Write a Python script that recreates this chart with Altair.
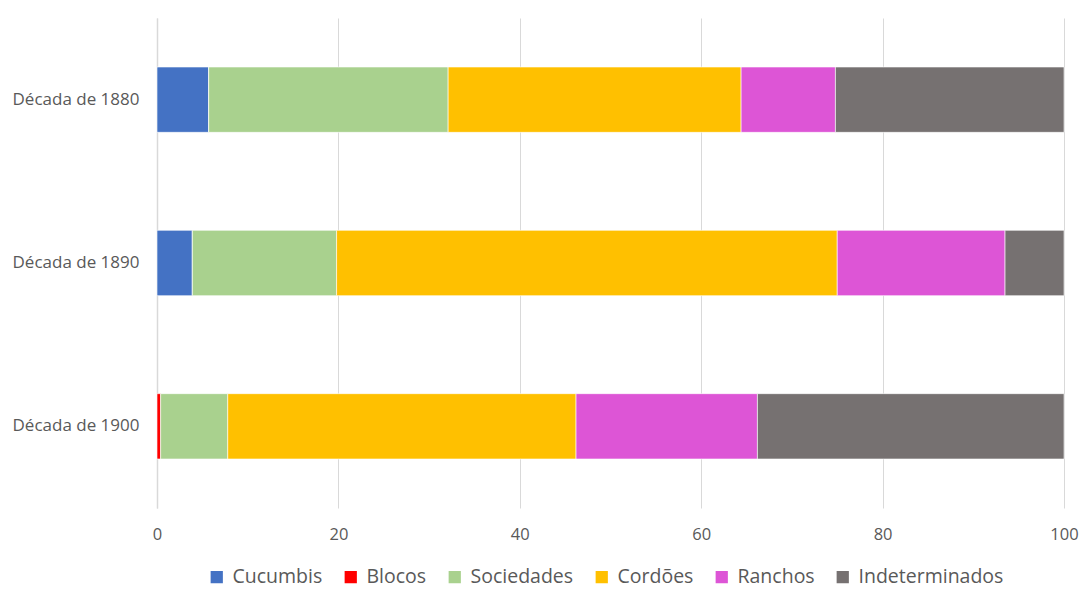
import altair as alt
import pandas as pd

decades = ["Década de 1880", "Década de 1890", "Década de 1900"]
series = ["Cucumbis", "Blocos", "Sociedades", "Cordões", "Ranchos", "Indeterminados"]
colors = ["#4472C4", "#FF0000", "#A9D18E", "#FFC000", "#DD55D6", "#767171"]
cucumbis = [5.7, 3.9, 0.0]
blocos = [0.0, 0.0, 0.4]
sociedades = [26.4, 15.9, 7.4]
cordoes = [32.3, 55.2, 38.4]
ranchos = [10.4, 18.5, 20.0]
indeterminados = [25.2, 6.5, 33.8]

vals = [cucumbis, blocos, sociedades, cordoes, ranchos, indeterminados]
rows = []
for si, s in enumerate(series):
    for di, d in enumerate(decades):
        rows.append({"decada": d, "serie": s, "valor": vals[si][di], "ordem": si})
df = pd.DataFrame(rows)

font = "Open Sans"

chart = alt.Chart(df).mark_bar(stroke="white", strokeWidth=0.6).encode(
    y=alt.Y("decada:N", sort=decades, title=None,
            scale=alt.Scale(paddingInner=0.6, paddingOuter=0.3),
            axis=alt.Axis(labelFont=font, labelFontSize=17, labelColor="#595959",
                          ticks=False, domain=True, domainColor="#D9D9D9", domainWidth=1.5,
                          labelPadding=18)),
    x=alt.X("valor:Q", stack="zero", title=None,
            scale=alt.Scale(domain=[0, 100], nice=False),
            axis=alt.Axis(values=[0, 20, 40, 60, 80, 100], labelFont=font, labelFontSize=16.5,
                          labelColor="#595959", ticks=False, domain=False, labelFlush=False,
                          grid=True, gridColor="#D9D9D9", labelPadding=18)),
    color=alt.Color("serie:N", sort=series,
                    scale=alt.Scale(domain=series, range=colors),
                    legend=alt.Legend(title=None, orient="none", direction="horizontal",
                                      legendX=50, legendY=549, columns=6,
                                      symbolType="square", symbolSize=150,
                                      symbolStrokeWidth=0,
                                      labelFont=font, labelFontSize=19.5, labelColor="#595959",
                                      columnPadding=18, symbolOffset=0, labelOffset=6)),
    order=alt.Order("ordem:Q"),
).properties(
    width=907, height=490,
    padding={"left": 157, "top": 18, "right": 17, "bottom": 81},
    autosize=alt.AutoSizeParams(type="none"),
    background="white",
).configure_view(stroke=None)

chart.save("out.html", embed_options={"renderer": "svg", "actions": False})
